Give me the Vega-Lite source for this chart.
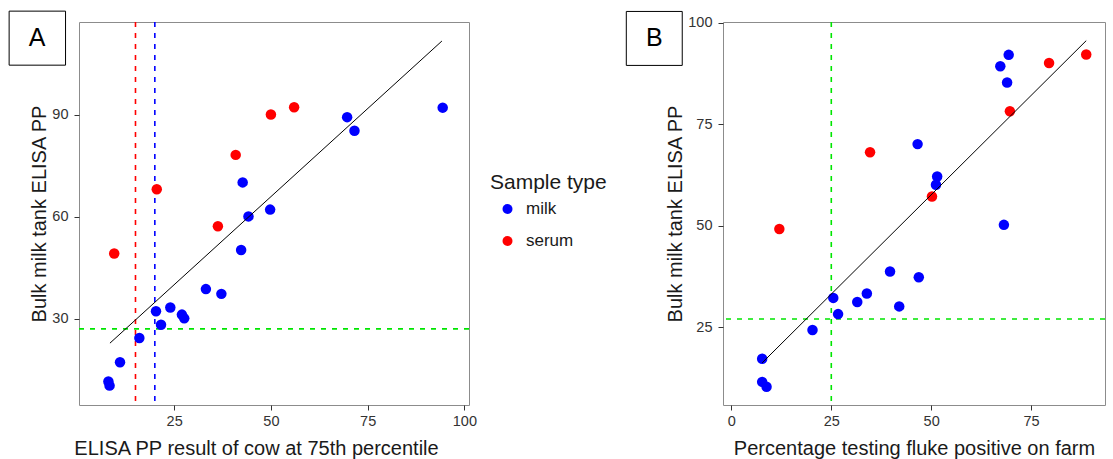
{
  "$schema": "https://vega.github.io/schema/vega-lite/v6.json",
  "padding": {"left": 8, "top": 10, "right": 5, "bottom": 2},
  "background": "white",
  "datasets": {
    "farms": [
      {"pp75": 8.0, "pct": 7.7, "bulk": 11.5, "type": "milk"},
      {"pp75": 8.3, "pct": 8.8, "bulk": 10.3, "type": "milk"},
      {"pp75": 11.0, "pct": 7.7, "bulk": 17.2, "type": "milk"},
      {"pp75": 16.0, "pct": 20.3, "bulk": 24.3, "type": "milk"},
      {"pp75": 20.3, "pct": 25.5, "bulk": 32.2, "type": "milk"},
      {"pp75": 21.6, "pct": 26.7, "bulk": 28.2, "type": "milk"},
      {"pp75": 24.0, "pct": 33.9, "bulk": 33.3, "type": "milk"},
      {"pp75": 27.0, "pct": 31.5, "bulk": 31.2, "type": "milk"},
      {"pp75": 27.6, "pct": 42.0, "bulk": 30.1, "type": "milk"},
      {"pp75": 33.2, "pct": 39.7, "bulk": 38.7, "type": "milk"},
      {"pp75": 37.2, "pct": 46.9, "bulk": 37.3, "type": "milk"},
      {"pp75": 42.3, "pct": 68.2, "bulk": 50.2, "type": "milk"},
      {"pp75": 42.7, "pct": 46.6, "bulk": 70.1, "type": "milk"},
      {"pp75": 44.2, "pct": 51.2, "bulk": 60.1, "type": "milk"},
      {"pp75": 49.8, "pct": 51.5, "bulk": 62.1, "type": "milk"},
      {"pp75": 69.7, "pct": 67.3, "bulk": 89.3, "type": "milk"},
      {"pp75": 71.6, "pct": 69.0, "bulk": 85.3, "type": "milk"},
      {"pp75": 94.4, "pct": 69.4, "bulk": 92.1, "type": "milk"},
      {"pp75": 9.5, "pct": 12.0, "bulk": 49.2, "type": "serum"},
      {"pp75": 20.5, "pct": 34.7, "bulk": 68.1, "type": "serum"},
      {"pp75": 36.3, "pct": 50.2, "bulk": 57.2, "type": "serum"},
      {"pp75": 40.9, "pct": 69.7, "bulk": 78.2, "type": "serum"},
      {"pp75": 50.0, "pct": 79.5, "bulk": 90.1, "type": "serum"},
      {"pp75": 56.0, "pct": 88.8, "bulk": 92.2, "type": "serum"}
    ],
    "fitA": [{"pp75": 8.4, "bulk": 22.8}, {"pp75": 94.2, "bulk": 111.7}],
    "fitB": [{"pct": 7.7, "bulk": 16.2}, {"pct": 88.8, "bulk": 95.6}]
  },
  "config": {
    "font": "Liberation Sans",
    "view": {"stroke": "#8c8c8c", "strokeWidth": 1},
    "axis": {
      "domain": false,
      "tickColor": "#333333",
      "tickSize": 5,
      "labelFontSize": 14.5,
      "labelColor": "#333333",
      "titleFontSize": 20,
      "titleFontWeight": "normal",
      "titleColor": "#1a1a1a",
      "gridWidth": 1
    },
    "axisX": {"labelPadding": 4, "titlePadding": 11},
    "axisY": {"labelPadding": 6, "titlePadding": 2},
    "concat": {"spacing": 17}
  },
  "resolve": {"legend": {"color": "independent"}},
  "hconcat": [
    {
      "width": 390,
      "height": 383,
      "layer": [
        {
          "data": {"values": [{}]},
          "mark": {"type": "rule", "stroke": "#0000ff", "strokeDash": [5, 6], "strokeWidth": 1.6},
          "encoding": {"x": {"datum": 20, "type": "quantitative"}}
        },
        {
          "data": {"values": [{}]},
          "mark": {"type": "rule", "stroke": "#ff0000", "strokeDash": [5, 6], "strokeWidth": 1.6},
          "encoding": {"x": {"datum": 15, "type": "quantitative"}}
        },
        {
          "data": {"values": [{}]},
          "mark": {"type": "rule", "stroke": "#00e600", "strokeDash": [5, 6], "strokeWidth": 1.6},
          "encoding": {"y": {"datum": 27, "type": "quantitative"}}
        },
        {
          "data": {"name": "farms"},
          "mark": {"type": "circle", "size": 110, "opacity": 1},
          "encoding": {
            "x": {
              "field": "pp75", "type": "quantitative",
              "scale": {"domain": [0.4, 101.2], "nice": false, "zero": false},
              "axis": {
                "title": "ELISA PP result of cow at 75th percentile",
                "titleX": 177,
                "values": [12.5, 25, 37.5, 50, 62.5, 75, 87.5, 100],
                "labelExpr": "datum.value % 25 == 0 ? datum.label : ''",
                "tickOpacity": {"condition": {"test": "datum.value % 25 == 0", "value": 1}, "value": 0},
                "gridColor": {"condition": {"test": "datum.value % 25 == 0", "value": "#e4e4e4"}, "value": "#f3f3f3"}
              }
            },
            "y": {
              "field": "bulk", "type": "quantitative",
              "scale": {"domain": [4.6, 117.3], "nice": false, "zero": false},
              "axis": {
                "title": "Bulk milk tank ELISA PP",
                "values": [15, 30, 45, 60, 75, 90, 105],
                "labelExpr": "datum.value % 30 == 0 ? datum.label : ''",
                "tickOpacity": {"condition": {"test": "datum.value % 30 == 0", "value": 1}, "value": 0},
                "gridColor": {"condition": {"test": "datum.value % 30 == 0", "value": "#e4e4e4"}, "value": "#f3f3f3"}
              }
            },
            "color": {
              "field": "type", "type": "nominal",
              "scale": {"domain": ["milk", "serum"], "range": ["#0000ff", "#ff0000"]},
              "legend": {
                "orient": "none", "legendX": 411, "legendY": 149.5,
                "title": "Sample type", "titleFontSize": 21, "titleFontWeight": "normal", "titleColor": "#1a1a1a",
                "titlePadding": 8,
                "labelFontSize": 17, "labelColor": "#1a1a1a", "labelOffset": 10,
                "symbolSize": 100, "symbolType": "circle", "symbolOffset": 9,
                "rowPadding": 14, "padding": 0
              }
            }
          }
        },
        {
          "data": {"name": "fitA"},
          "mark": {"type": "line", "stroke": "black", "strokeWidth": 1},
          "encoding": {
            "x": {"field": "pp75", "type": "quantitative"},
            "y": {"field": "bulk", "type": "quantitative"}
          }
        },
        {
          "data": {"values": [{}]},
          "mark": {"type": "rect", "fill": "white", "stroke": "black", "strokeWidth": 1, "clip": false},
          "encoding": {
            "x": {"datum": -17.66, "type": "quantitative"},
            "x2": {"datum": -3.08},
            "y": {"datum": 120.5, "type": "quantitative"},
            "y2": {"datum": 104.6}
          }
        },
        {
          "data": {"values": [{"label": "A"}]},
          "mark": {"type": "text", "fontSize": 25, "color": "black", "align": "center", "baseline": "middle", "clip": false},
          "encoding": {
            "x": {"datum": -10.4, "type": "quantitative"},
            "y": {"datum": 112.6, "type": "quantitative"},
            "text": {"field": "label"}
          }
        }
      ]
    },
    {
      "width": 382,
      "height": 383,
      "layer": [
        {
          "data": {"values": [{}]},
          "mark": {"type": "rule", "stroke": "#00e600", "strokeDash": [5, 6], "strokeWidth": 1.6},
          "encoding": {"x": {"datum": 25, "type": "quantitative"}}
        },
        {
          "data": {"values": [{}]},
          "mark": {"type": "rule", "stroke": "#00e600", "strokeDash": [5, 6], "strokeWidth": 1.6},
          "encoding": {"y": {"datum": 27, "type": "quantitative"}}
        },
        {
          "data": {"name": "farms"},
          "mark": {"type": "circle", "size": 110, "opacity": 1},
          "encoding": {
            "x": {
              "field": "pct", "type": "quantitative",
              "scale": {"domain": [-2.1, 93.5], "nice": false, "zero": false},
              "axis": {
                "title": "Percentage testing fluke positive on farm",
                "values": [0, 12.5, 25, 37.5, 50, 62.5, 75, 87.5],
                "labelExpr": "datum.value % 25 == 0 ? datum.label : ''",
                "tickOpacity": {"condition": {"test": "datum.value % 25 == 0", "value": 1}, "value": 0},
                "gridColor": {"condition": {"test": "datum.value % 25 == 0", "value": "#e4e4e4"}, "value": "#f3f3f3"}
              }
            },
            "y": {
              "field": "bulk", "type": "quantitative",
              "scale": {"domain": [5.8, 100.2], "nice": false, "zero": false},
              "axis": {
                "title": "Bulk milk tank ELISA PP",
                "values": [12.5, 25, 37.5, 50, 62.5, 75, 87.5, 100],
                "labelExpr": "datum.value % 25 == 0 ? datum.label : ''",
                "tickOpacity": {"condition": {"test": "datum.value % 25 == 0", "value": 1}, "value": 0},
                "gridColor": {"condition": {"test": "datum.value % 25 == 0", "value": "#e4e4e4"}, "value": "#f3f3f3"}
              }
            },
            "color": {
              "field": "type", "type": "nominal",
              "scale": {"domain": ["milk", "serum"], "range": ["#0000ff", "#ff0000"]},
              "legend": null
            }
          }
        },
        {
          "data": {"name": "fitB"},
          "mark": {"type": "line", "stroke": "black", "strokeWidth": 1},
          "encoding": {
            "x": {"field": "pct", "type": "quantitative"},
            "y": {"field": "bulk", "type": "quantitative"}
          }
        },
        {
          "data": {"values": [{}]},
          "mark": {"type": "rect", "fill": "white", "stroke": "black", "strokeWidth": 1, "clip": false},
          "encoding": {
            "x": {"datum": -26.3, "type": "quantitative"},
            "x2": {"datum": -12.3},
            "y": {"datum": 102.8, "type": "quantitative"},
            "y2": {"datum": 89.5}
          }
        },
        {
          "data": {"values": [{"label": "B"}]},
          "mark": {"type": "text", "fontSize": 25, "color": "black", "align": "center", "baseline": "middle", "clip": false},
          "encoding": {
            "x": {"datum": -19.3, "type": "quantitative"},
            "y": {"datum": 96.2, "type": "quantitative"},
            "text": {"field": "label"}
          }
        }
      ]
    }
  ]
}
